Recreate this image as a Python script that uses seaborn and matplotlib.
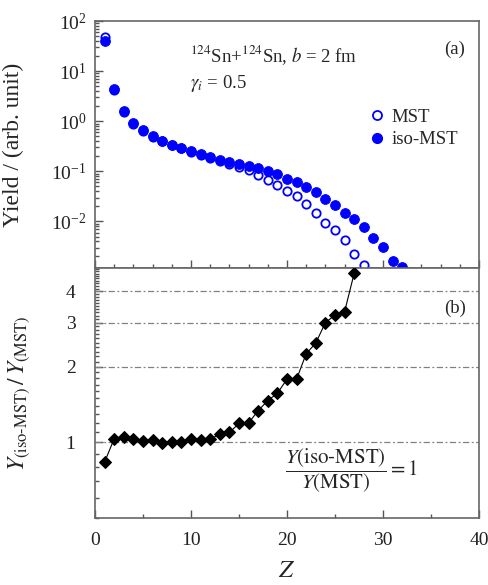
import numpy as np
import pandas as pd
import matplotlib
matplotlib.use('Agg')
import matplotlib.pyplot as plt
import seaborn as sns
from matplotlib.ticker import FixedLocator, FixedFormatter, NullFormatter, LogLocator, MultipleLocator
from matplotlib.lines import Line2D

# ---------------- data ----------------
Z_iso = list(range(1, 33))
yield_iso = [40, 4.4, 1.585, 0.92, 0.655, 0.50, 0.40, 0.341, 0.292, 0.251, 0.219, 0.194,
             0.171, 0.1535, 0.1426, 0.128, 0.115, 0.100, 0.0883, 0.0718, 0.0603, 0.0494,
             0.0393, 0.0284, 0.0216, 0.01466, 0.011, 0.00759, 0.00472, 0.00302, 0.00164, 0.00122]
Z_mst = list(range(1, 29))
yield_mst = [48, 4.25, 1.51, 0.889, 0.648, 0.492, 0.403, 0.339, 0.29, 0.243, 0.215, 0.188,
             0.158, 0.140, 0.122, 0.105, 0.0844, 0.0676, 0.0545, 0.0404, 0.0327, 0.0219,
             0.0149, 0.00925, 0.00682, 0.0043, 0.00226, 0.00132]
Z_ratio = list(range(1, 28))
ratio = [0.835, 1.035, 1.05, 1.035, 1.01, 1.018, 0.997, 1.006, 1.006, 1.035, 1.018, 1.028,
         1.08, 1.096, 1.19, 1.195, 1.339, 1.468, 1.57, 1.787, 1.787, 2.257, 2.489, 3.003,
         3.213, 3.32, 4.72]
ratio_ticks = [1, 2, 3, 4]
ref_lines = [1, 2, 3, 4]

# ---------------- style ----------------
sns.set_style('ticks')
plt.rcParams['font.family'] = ['Liberation Serif', 'DejaVu Serif']
plt.rcParams['mathtext.fontset'] = 'stix'

fig = plt.figure(figsize=(4.88, 5.85), dpi=100)
ax1 = fig.add_axes([0.19467, 0.54103, 0.78689, 0.42307])
ax2 = fig.add_axes([0.19467, 0.11453, 0.78689, 0.42650])

spine_col = '#666666'
for ax in (ax1, ax2):
    for s in ax.spines.values():
        s.set_color(spine_col)
        s.set_linewidth(1.2)

# ---------------- top panel ----------------
df_iso = pd.DataFrame({'Z': Z_iso, 'Y': yield_iso})
df_mst = pd.DataFrame({'Z': Z_mst, 'Y': yield_mst})
sns.scatterplot(data=df_mst, x='Z', y='Y', ax=ax1, marker='o', s=36, color='white',
                edgecolor='#0000ff', linewidth=1.3, zorder=3, legend=False)
sns.scatterplot(data=df_iso, x='Z', y='Y', ax=ax1, marker='o', s=50, color='#0000ff',
                edgecolor='#0000ff', linewidth=0.6, zorder=4, legend=False)
ax1.set_yscale('log')
ax1.set_ylim(1.15e-3, 100)
ax1.set_xlim(0, 40)
ax1.xaxis.set_major_locator(FixedLocator([0, 10, 20, 30, 40]))
ax1.xaxis.set_minor_locator(MultipleLocator(2))
ax1.tick_params(axis='x', which='both', labelbottom=False)
ax1.yaxis.set_major_locator(LogLocator(base=10, numticks=10))
ax1.yaxis.set_minor_locator(LogLocator(base=10, subs=np.arange(2, 10), numticks=10))
ax1.yaxis.set_minor_formatter(NullFormatter())
ax1.set_xlabel('')
ax1.set_ylabel('Yield / (arb. unit)', fontsize=17)
ax1.yaxis.set_label_coords(-0.185, 0.5)

handles = [Line2D([], [], ls='none', marker='o', ms=6.5, mfc='white', mec='#0000ff', mew=1.3),
           Line2D([], [], ls='none', marker='o', ms=7, mfc='#0000ff', mec='#0000ff')]
ax1.legend(handles, ['MST', 'iso-MST'], frameon=False, loc='upper left',
           bbox_to_anchor=(0.68, 0.70), fontsize=13.5, handlelength=0.8,
           handletextpad=0.4, labelspacing=0.3, borderpad=0.2)

ax1.text(0.247, 0.834, r'$^{124}$Sn+$^{124}$Sn, $b$ = 2 fm', transform=ax1.transAxes,
         fontsize=13.5, va='baseline', ha='left')
ax1.text(0.247, 0.729, r'$\gamma_{i}$ = 0.5', transform=ax1.transAxes,
         fontsize=13.5, va='baseline', ha='left')
ax1.text(0.9375, 0.887, '(a)', transform=ax1.transAxes, fontsize=13.5, ha='center', va='center')

# ---------------- bottom panel ----------------
df_r = pd.DataFrame({'Z': Z_ratio, 'R': ratio})
for v in ref_lines:
    ax2.axhline(v, color='#808080', lw=0.9, ls=(0, (5, 2, 1.5, 2)), zorder=1)
sns.lineplot(data=df_r, x='Z', y='R', ax=ax2, color='black', lw=0.8, marker='D',
             markersize=6.5, markeredgecolor='black', zorder=3)
ax2.set_yscale('log')
ax2.set_ylim(0.5, 4.93)
ax2.set_xlim(0, 40)
ax2.yaxis.set_major_locator(FixedLocator(ratio_ticks))
ax2.yaxis.set_major_formatter(FixedFormatter([str(t) for t in ratio_ticks]))
minor = [round(0.5 + 0.1 * k, 1) for k in range(45)]
minor = [m for m in minor if m not in ratio_ticks]
ax2.yaxis.set_minor_locator(FixedLocator(minor))
ax2.yaxis.set_minor_formatter(NullFormatter())
ax2.xaxis.set_major_locator(FixedLocator([0, 10, 20, 30, 40]))
ax2.xaxis.set_minor_locator(FixedLocator([5, 15, 25, 35]))
ax2.set_xlabel(r'$Z$', fontsize=18)
ax2.xaxis.set_label_coords(0.5, -0.17)
ax2.set_ylabel(r'$Y_{\rm (iso\text{-}MST)}\,/\,Y_{\rm (MST)}$', fontsize=17)
ax2.yaxis.set_label_coords(-0.165, 0.5)

ax2.text(0.9375, 0.842, '(b)', transform=ax2.transAxes, fontsize=13.5, ha='center', va='center')
ax2.text(0.669, 0.188, r'$\dfrac{Y\mathrm{(iso\text{-}MST)}}{Y\mathrm{(MST)}} = 1$',
         transform=ax2.transAxes, fontsize=15, ha='center', va='center')

for ax in (ax1, ax2):
    ax.tick_params(which='both', direction='in', colors='#555555', labelcolor='#222222',
                   labelsize=14, right=False, top=False, width=1.0)
    ax.tick_params(which='major', length=6)
    ax.tick_params(which='minor', length=3)
ax2.tick_params(axis='x', which='major', pad=10)
ax1.tick_params(axis='y', which='major', pad=6)
ax2.tick_params(axis='y', which='major', pad=14)

fig.savefig('out.png', dpi=100)
